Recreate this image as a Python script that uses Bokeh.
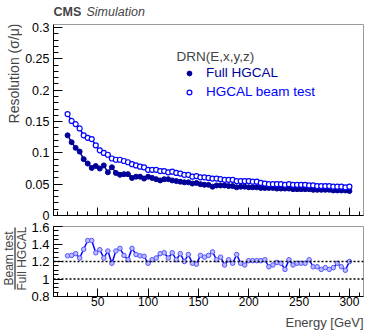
import math
from bokeh.plotting import figure
from bokeh.models import (ColumnDataSource, Range1d, SingleIntervalTicker, CustomJSTickFormatter,
                          Label, Span, Legend, LegendItem, BoxAnnotation)
from bokeh.layouts import column, row
from bokeh.embed import file_html
from bokeh.resources import INLINE

# ---------------- data ----------------
energy = [20, 24, 28, 32, 36, 40, 44, 48, 52, 56, 60, 64, 68, 72, 76, 80, 84, 88, 92, 96,
          100, 104, 108, 112, 116, 120, 124, 128, 132, 136, 140, 144, 148, 152, 156, 160, 164, 168, 172, 176,
          180, 184, 188, 192, 196, 200, 204, 208, 212, 216, 220, 224, 228, 232, 236, 240, 244, 248, 252, 256,
          260, 264, 268, 272, 276, 280, 284, 288, 292, 296, 300]

res_full = [0.128, 0.117, 0.108, 0.102, 0.090, 0.083, 0.076, 0.079, 0.075, 0.080,
            0.069, 0.077, 0.068, 0.065, 0.066, 0.066, 0.060, 0.062, 0.062, 0.059,
            0.062, 0.060, 0.058, 0.056, 0.058, 0.058, 0.056, 0.055, 0.054, 0.053,
            0.053, 0.051, 0.052, 0.050, 0.049, 0.049, 0.046, 0.048, 0.048, 0.048,
            0.047, 0.047, 0.045, 0.046, 0.046, 0.045, 0.045, 0.045, 0.044, 0.044,
            0.044, 0.044, 0.043, 0.043, 0.043, 0.043, 0.042, 0.042, 0.042, 0.042,
            0.042, 0.041, 0.041, 0.041, 0.041, 0.041, 0.040, 0.040, 0.040, 0.040, 0.039]

res_beam = [0.162, 0.151, 0.146, 0.139, 0.128, 0.124, 0.122, 0.112, 0.104, 0.100,
            0.097, 0.091, 0.089, 0.089, 0.087, 0.085, 0.082, 0.080, 0.078, 0.077,
            0.073, 0.073, 0.073, 0.071, 0.071, 0.069, 0.070, 0.068, 0.067, 0.065,
            0.065, 0.062, 0.063, 0.061, 0.061, 0.060, 0.059, 0.059, 0.058, 0.057,
            0.057, 0.057, 0.055, 0.055, 0.055, 0.055, 0.054, 0.054, 0.052, 0.051,
            0.050, 0.050, 0.050, 0.050, 0.049, 0.050, 0.049, 0.049, 0.049, 0.049,
            0.048, 0.048, 0.047, 0.047, 0.047, 0.047, 0.046, 0.046, 0.046, 0.045, 0.046]

ratio = [1.265, 1.27, 1.29, 1.24, 1.34, 1.44, 1.44, 1.30, 1.335, 1.24,
         1.32, 1.18, 1.32, 1.35, 1.27, 1.22, 1.35, 1.28, 1.265, 1.26,
         1.18, 1.22, 1.24, 1.29, 1.30, 1.24, 1.30, 1.22, 1.29, 1.20,
         1.28, 1.18, 1.17, 1.27, 1.25, 1.27, 1.31, 1.22, 1.25, 1.16,
         1.22, 1.18, 1.28, 1.18, 1.16, 1.21, 1.21, 1.21, 1.21, 1.22,
         1.14, 1.16, 1.19, 1.18, 1.11, 1.22, 1.16, 1.18, 1.18, 1.18,
         1.22, 1.14, 1.14, 1.11, 1.13, 1.11, 1.13, 1.18, 1.14, 1.10, 1.20]

ref_lines = [1.0, 1.2]

NAVY = "#000099"
BLUE = "#0000ff"
FONT = "Liberation Sans"

src = ColumnDataSource(dict(e=energy, full=res_full, beam=res_beam, ratio=ratio))

fmt = CustomJSTickFormatter(code="return String(parseFloat(tick.toFixed(3)));")


def style_axis(ax, tick_in, minor_in, label_size):
    ax.major_tick_in = tick_in
    ax.major_tick_out = 0
    ax.minor_tick_in = minor_in
    ax.minor_tick_out = 0
    ax.axis_line_color = "black"
    ax.major_tick_line_color = "black"
    ax.minor_tick_line_color = "black"
    ax.major_label_text_font = FONT
    ax.major_label_text_font_size = label_size
    ax.major_label_text_color = "black"


def blank(width, height):
    f = figure(width=width, height=height, min_border=0, x_axis_type=None, y_axis_type=None,
               x_range=Range1d(0, width), y_range=Range1d(0, height),
               output_backend="svg", toolbar_location=None)
    f.grid.visible = False
    f.outline_line_color = None
    f.title = None
    return f


# ---------------- header ----------------
header = blank(381, 22)
header.add_layout(Label(x=53, y=10.5, x_units="screen", y_units="screen", text="CMS",
                        text_font=FONT, text_font_style="bold", text_font_size="12.5px",
                        text_baseline="middle"))
header.add_layout(Label(x=86, y=10.5, x_units="screen", y_units="screen", text="Simulation",
                        text_font=FONT, text_font_style="italic", text_font_size="12.5px",
                        text_baseline="middle"))

# ---------------- top panel ----------------
p1 = figure(width=359, height=200, min_border_left=30, min_border_right=18,
            min_border_top=2, min_border_bottom=7,
            x_range=Range1d(6, 314), y_range=Range1d(0, 0.305),
            output_backend="svg", toolbar_location=None)
p1.title = None
p1.grid.visible = False
p1.outline_line_color = "#999999"

p1.xaxis.ticker = SingleIntervalTicker(interval=50, num_minor_ticks=5)
p1.yaxis.ticker = SingleIntervalTicker(interval=0.05, num_minor_ticks=5)
p1.yaxis.formatter = fmt
style_axis(p1.xaxis[0], 8, 4, "0px")
style_axis(p1.yaxis[0], 9, 5, "12.5px")
p1.xaxis.major_label_standoff = 0
p1.yaxis.major_label_standoff = 4

p1.line("e", "full", source=src, color=NAVY, line_width=1.5)
r_full = p1.scatter("e", "full", source=src, marker="circle", size=5, color=NAVY)
p1.line("e", "beam", source=src, color=BLUE, line_width=1.5)
r_beam = p1.scatter("e", "beam", source=src, marker="circle", size=5, line_color=BLUE,
                    fill_color="white", line_width=1.2)

common_leg = dict(glyph_width=12, glyph_height=12, label_height=12, label_standoff=11,
                  padding=0, margin=0, border_line_color=None, background_fill_alpha=0,
                  label_text_font=FONT, label_text_font_size="13.5px")
leg1 = Legend(items=[LegendItem(label="Full HGCAL", renderers=[r_full])], location=(130, 135),
              label_text_color=NAVY, **common_leg)
leg2 = Legend(items=[LegendItem(label="HGCAL beam test", renderers=[r_beam])], location=(130, 116),
              label_text_color=BLUE, **common_leg)
p1.add_layout(leg1)
p1.add_layout(leg2)
p1.add_layout(Label(x=123, y=159.5, x_units="screen", y_units="screen", text="DRN(E,x,y,z)",
                    text_font=FONT, text_font_size="13.5px", text_baseline="middle"))

left1 = blank(22, 200)
left1.add_layout(Label(x=13, y=192, x_units="screen", y_units="screen", text="Resolution (σ/μ)",
                       text_font=FONT, text_font_size="14px", angle=math.pi / 2,
                       text_align="right", text_baseline="middle"))

# ---------------- ratio panel ----------------
p2 = figure(width=353, height=91, min_border_left=24, min_border_right=18,
            min_border_top=4, min_border_bottom=17,
            x_range=p1.x_range, y_range=Range1d(0.8, 1.6),
            output_backend="svg", toolbar_location=None)
p2.title = None
p2.grid.visible = False
p2.outline_line_color = "#999999"
p2.xaxis.ticker = SingleIntervalTicker(interval=50, num_minor_ticks=5)
p2.yaxis.ticker = SingleIntervalTicker(interval=0.2, num_minor_ticks=4)
p2.yaxis.formatter = fmt
style_axis(p2.xaxis[0], 8, 4, "12px")
style_axis(p2.yaxis[0], 9, 5, "13px")
p2.xaxis.major_label_standoff = 0
p2.yaxis.major_label_standoff = 4

for v in ref_lines:
    p2.add_layout(Span(location=v, dimension="width", line_color="black", line_width=1.5,
                       line_dash="2 2"))

p2.line("e", "ratio", source=src, color=BLUE, line_width=1.5)
p2.scatter("e", "ratio", source=src, marker="circle", size=4.5, line_color="#5555ff",
           fill_color="#bbbbff", line_width=1)

left2 = blank(28, 91)
left2.add_layout(Label(x=8, y=38, x_units="screen", y_units="screen", text="Beam test",
                       text_font=FONT, text_font_size="12px", angle=math.pi / 2,
                       text_align="center", text_baseline="middle"))
left2.add_layout(Label(x=21, y=38, x_units="screen", y_units="screen", text="Full HGCAL",
                       text_font=FONT, text_font_size="12px", angle=math.pi / 2,
                       text_align="center", text_baseline="middle"))
left2.add_layout(BoxAnnotation(left=14, right=15, bottom=7, top=69,
                               left_units="screen", right_units="screen",
                               bottom_units="screen", top_units="screen",
                               fill_color="black", fill_alpha=1, line_color=None))

# ---------------- footer ----------------
footer = blank(381, 19)
footer.add_layout(Label(x=363, y=18, x_units="screen", y_units="screen", text="Energy [GeV]",
                        text_font=FONT, text_font_size="13px", text_align="right",
                        text_baseline="top"))

layout = column(header, row(left1, p1, spacing=0), row(left2, p2, spacing=0), footer, spacing=0)
open("out.html", "w").write(file_html(layout, INLINE))
